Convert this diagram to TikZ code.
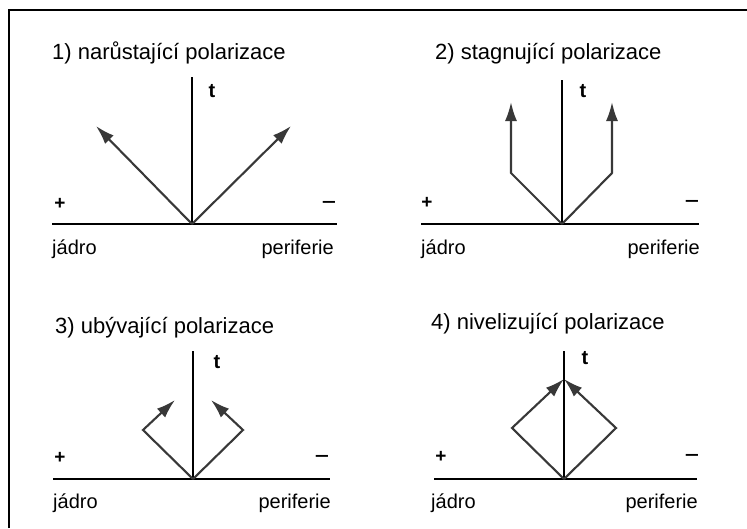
\documentclass[tikz,border=0pt]{standalone}
\usepackage{fontspec}
\setmainfont{Liberation Sans}
\usetikzlibrary{arrows.meta}
\definecolor{arrgray}{HTML}{383838}
\tikzset{
  axisline/.style={line width=2.1pt,black},
  frameline/.style={line width=2.2pt,black},
  polarrow/.style={line width=2.1pt,arrgray,-{Latex[length=19pt,width=12pt]}},
  polline/.style={line width=2.1pt,arrgray,line join=miter},
  titletext/.style={anchor=base west,inner sep=0pt,font=\fontsize{22}{26}\selectfont},
  labtext/.style={inner sep=0pt,font=\fontsize{20}{24}\selectfont},
  ttext/.style={inner sep=0pt,font=\fontsize{20}{24}\selectfont\bfseries},
  signtext/.style={inner sep=0pt,font=\fontsize{19}{22}\selectfont\bfseries},
}
\begin{document}
\begin{tikzpicture}[x=1pt,y=-1pt]
\useasboundingbox (0,0) rectangle (747,528);
\fill[white] (0,0) rectangle (747,528);
% frame
\coordinate (fbl) at (9,528);
\coordinate (ftl) at (9,10);
\coordinate (ftr) at (747,10);
\draw[frameline] (fbl) -- (ftl) -- (ftr);

% ---------- panel 1
\node[titletext] (t1) at (52,59) {1) narůstající polarizace};
\coordinate (o1) at (192,224);
\coordinate (v1) at (192,77);
\coordinate (hl1) at (52,224);
\coordinate (hr1) at (337,224);
\coordinate (a1l) at (96,126);
\coordinate (a1r) at (291,126);
\draw[axisline] (o1) -- (v1);
\draw[axisline] (hl1) -- (hr1);
\draw[polarrow] (o1) -- (a1l);
\draw[polarrow] (o1) -- (a1r);
\node[ttext] (tt1) at (212,91) {t};
\node[signtext] (p1) at (60,204) {+};
\node[signtext,xscale=1.3] (m1) at (329,204) {–};
\node[labtext,anchor=base west] (j1) at (52,254) {jádro};
\node[labtext,anchor=base east] (pe1) at (334,254) {periferie};

% ---------- panel 2
\node[titletext] (t2) at (435,59) {2) stagnující polarizace};
\coordinate (o2) at (562,224);
\coordinate (v2) at (562,80);
\coordinate (hl2) at (421,224);
\coordinate (hr2) at (699,224);
\coordinate (c2l) at (511,173);
\coordinate (c2r) at (612,173);
\coordinate (a2l) at (511,102);
\coordinate (a2r) at (612,102);
\draw[axisline] (o2) -- (v2);
\draw[axisline] (hl2) -- (hr2);
\draw[polline,polarrow] (o2) -- (c2l) -- (a2l);
\draw[polline,polarrow] (o2) -- (c2r) -- (a2r);
\node[ttext] (tt2) at (583,91) {t};
\node[signtext] (p2) at (427,203) {+};
\node[signtext,xscale=1.3] (m2) at (692,203) {–};
\node[labtext,anchor=base west] (j2) at (421,254) {jádro};
\node[labtext,anchor=base east] (pe2) at (700,254) {periferie};

% ---------- panel 3
\node[titletext] (t3) at (55,333) {3) ubývající polarizace};
\coordinate (o3) at (193,479);
\coordinate (v3) at (193,351);
\coordinate (hl3) at (53,479);
\coordinate (hr3) at (330,479);
\coordinate (c3l) at (143,430);
\coordinate (c3r) at (243,430);
\coordinate (a3l) at (175,400);
\coordinate (a3r) at (211,400);
\draw[axisline] (o3) -- (v3);
\draw[axisline] (hl3) -- (hr3);
\draw[polline,polarrow] (o3) -- (c3l) -- (a3l);
\draw[polline,polarrow] (o3) -- (c3r) -- (a3r);
\node[ttext] (tt3) at (217,362) {t};
\node[signtext] (p3) at (60,458) {+};
\node[signtext,xscale=1.3] (m3) at (322,458) {–};
\node[labtext,anchor=base west] (j3) at (53,508) {jádro};
\node[labtext,anchor=base east] (pe3) at (331,508) {periferie};

% ---------- panel 4
\node[titletext] (t4) at (431,329) {4) nivelizující polarizace};
\coordinate (o4) at (564,479);
\coordinate (v4) at (564,351);
\coordinate (hl4) at (434,479);
\coordinate (hr4) at (697,479);
\coordinate (c4l) at (512,428);
\coordinate (c4r) at (616,428);
\coordinate (a4) at (564,379);
\draw[axisline] (o4) -- (v4);
\draw[axisline] (hl4) -- (hr4);
\draw[polline,polarrow] (o4) -- (c4l) -- (a4);
\draw[polline,polarrow] (o4) -- (c4r) -- (a4);
\node[ttext] (tt4) at (585,358) {t};
\node[signtext] (p4) at (441,457) {+};
\node[signtext,xscale=1.3] (m4) at (692,457) {–};
\node[labtext,anchor=base west] (j4) at (431,508) {jádro};
\node[labtext,anchor=base east] (pe4) at (698,508) {periferie};
\end{tikzpicture}
\end{document}
